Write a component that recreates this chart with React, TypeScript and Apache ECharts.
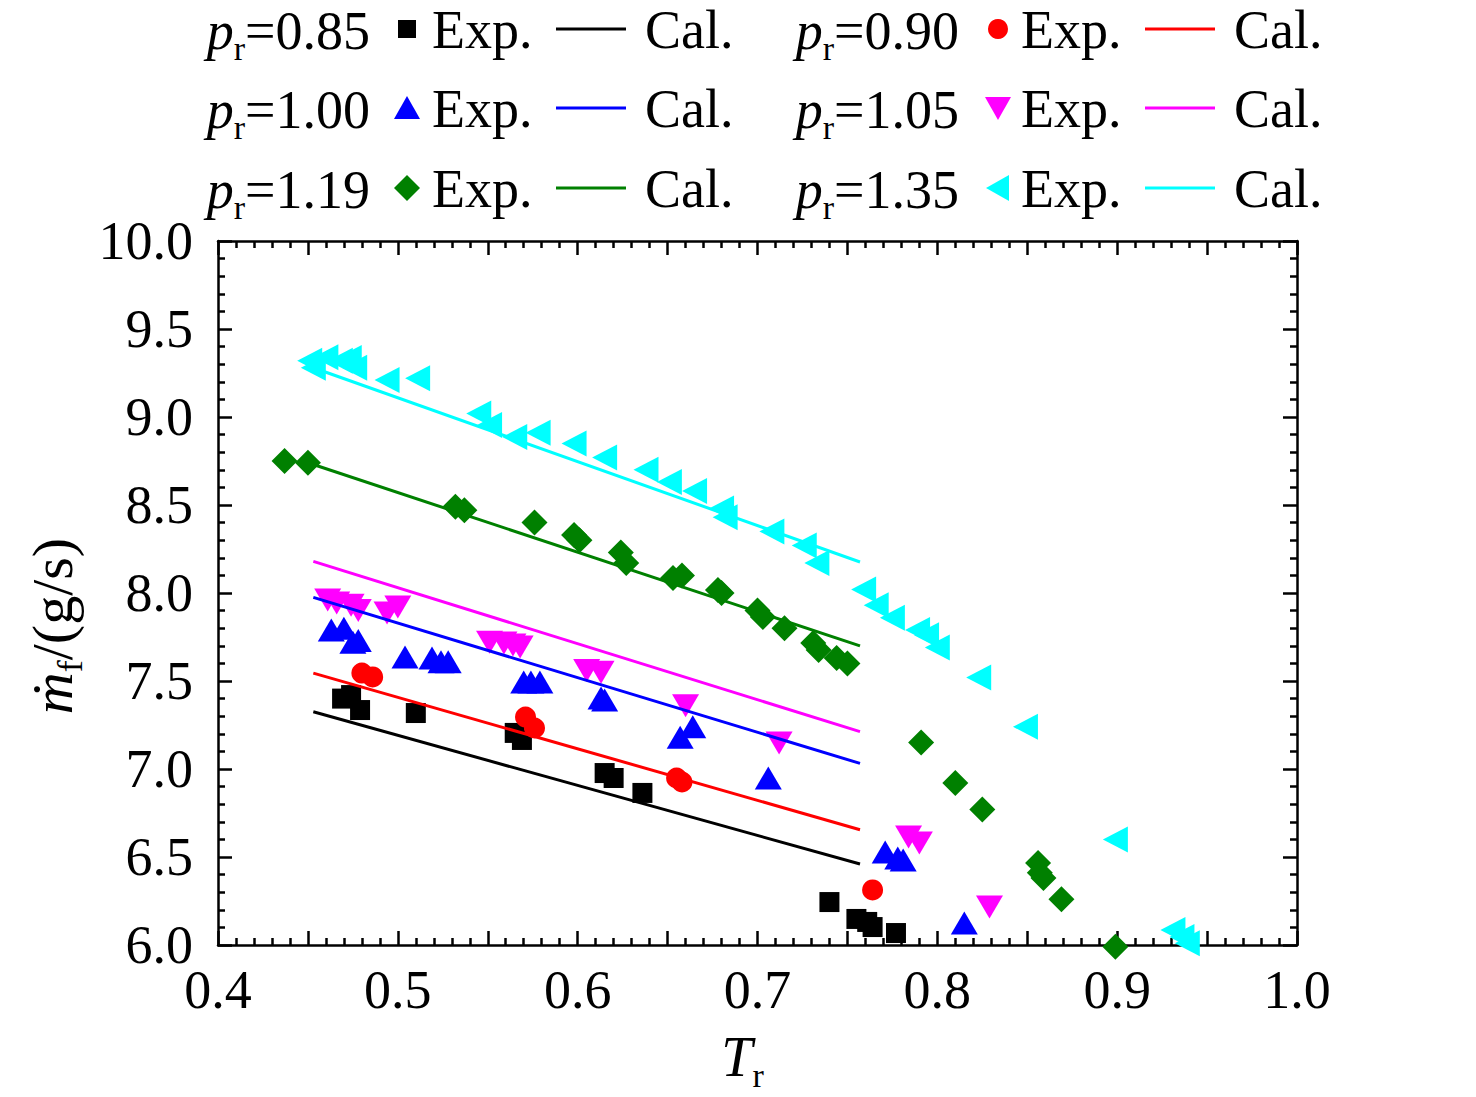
import React, { useEffect, useRef } from 'react';
import * as echarts from 'echarts';

const FONT = "'Liberation Serif', 'Times New Roman', serif";

// x = reduced temperature T_r, y = mass flow (g/s)
const xTicks = { min: 0.4, max: 1.0, interval: 0.05 };
const yTicks = { min: 6.0, max: 10.0, interval: 0.5 };

const pressureLabels = ['0.85', '0.90', '1.00', '1.05', '1.19', '1.35'];
const seriesColors = ['#000000', '#ff0000', '#0000ff', '#ff00ff', '#008000', '#00ffff'];

const exp085 = [
  [0.469, 7.4], [0.474, 7.42], [0.479, 7.335], [0.51, 7.318], [0.565, 7.205],
  [0.569, 7.165], [0.615, 6.977], [0.62, 6.949], [0.636, 6.864], [0.74, 6.244],
  [0.755, 6.148], [0.761, 6.131], [0.764, 6.102], [0.777, 6.068],
];
const exp090 = [
  [0.48, 7.545], [0.486, 7.523], [0.571, 7.295], [0.576, 7.233],
  [0.655, 6.949], [0.658, 6.926], [0.764, 6.313],
];
const exp100 = [
  [0.463, 7.79], [0.47, 7.8], [0.475, 7.72], [0.478, 7.73], [0.504, 7.636],
  [0.519, 7.63], [0.524, 7.61], [0.528, 7.61], [0.57, 7.494], [0.574, 7.494],
  [0.579, 7.494], [0.613, 7.403], [0.615, 7.392], [0.657, 7.18], [0.664, 7.24],
  [0.706, 6.949], [0.771, 6.528], [0.778, 6.494], [0.781, 6.483], [0.815, 6.125],
];
const exp105 = [
  [0.461, 7.96], [0.466, 7.943], [0.474, 7.93], [0.478, 7.9], [0.494, 7.886],
  [0.5, 7.92], [0.551, 7.72], [0.559, 7.716], [0.564, 7.705], [0.568, 7.693],
  [0.605, 7.56], [0.613, 7.55], [0.66, 7.36], [0.712, 7.148], [0.784, 6.614],
  [0.79, 6.58], [0.829, 6.216],
];
const exp119 = [
  [0.437, 8.75], [0.45, 8.74], [0.532, 8.49], [0.537, 8.47], [0.576, 8.4],
  [0.598, 8.33], [0.601, 8.3], [0.624, 8.23], [0.627, 8.17], [0.653, 8.085],
  [0.658, 8.1], [0.678, 8.017], [0.68, 8.0], [0.7, 7.9], [0.703, 7.864],
  [0.715, 7.8], [0.731, 7.716], [0.734, 7.676], [0.744, 7.63], [0.75, 7.6],
  [0.791, 7.15], [0.81, 6.92], [0.825, 6.77], [0.856, 6.466], [0.857, 6.41],
  [0.859, 6.38], [0.869, 6.26], [0.899, 5.99],
];
const exp135 = [
  [0.451, 9.32], [0.453, 9.28], [0.46, 9.34], [0.468, 9.32], [0.473, 9.335],
  [0.476, 9.28], [0.494, 9.21], [0.511, 9.22], [0.545, 9.02], [0.551, 8.955],
  [0.565, 8.886], [0.578, 8.91], [0.598, 8.85], [0.615, 8.77], [0.638, 8.7],
  [0.651, 8.63], [0.665, 8.58], [0.68, 8.48], [0.682, 8.43], [0.708, 8.35],
  [0.726, 8.27], [0.733, 8.17], [0.759, 8.02], [0.766, 7.93], [0.775, 7.86],
  [0.789, 7.79], [0.794, 7.76], [0.8, 7.69], [0.823, 7.52], [0.849, 7.24],
  [0.899, 6.6], [0.931, 6.085], [0.936, 6.045], [0.939, 6.01],
];
const expData = [exp085, exp090, exp100, exp105, exp119, exp135];

const cal085 = [[0.453, 7.325], [0.757, 6.46]];
const cal090 = [[0.453, 7.545], [0.757, 6.655]];
const cal100 = [[0.453, 7.975], [0.757, 7.032]];
const cal105 = [[0.453, 8.18], [0.757, 7.212]];
const cal119 = [[0.453, 8.73], [0.757, 7.7]];
const cal135 = [[0.453, 9.28], [0.757, 8.176]];
const calData = [cal085, cal090, cal100, cal105, cal119, cal135];

const symbols = [
  { symbol: 'rect', size: 20, rotate: 0 },
  { symbol: 'circle', size: 21, rotate: 0 },
  { symbol: 'triangle', size: [27, 23], rotate: 0 },
  { symbol: 'triangle', size: [27, 23], rotate: 180 },
  { symbol: 'diamond', size: [26, 26], rotate: 0 },
  { symbol: 'triangle', size: [26, 25], rotate: 90 },
];

// rich styles for subscripted labels (top padding pushes the subscript down)
const legendRich = {
  i: { fontFamily: FONT, fontStyle: 'italic', fontSize: 54, lineHeight: 50, color: '#000' },
  n: { fontFamily: FONT, fontSize: 54, lineHeight: 50, color: '#000' },
  s: { fontFamily: FONT, fontSize: 34, lineHeight: 16, padding: [34, 0, 0, 0], color: '#000' },
};
const xNameRich = {
  i: { fontFamily: FONT, fontStyle: 'italic', fontSize: 56, lineHeight: 56, color: '#000' },
  s: { fontFamily: FONT, fontSize: 34, lineHeight: 16, padding: [36, 0, 0, 0], color: '#000' },
};
const yNameRich = {
  i: { fontFamily: FONT, fontStyle: 'italic', fontSize: 58, lineHeight: 60, color: '#000' },
  n: { fontFamily: FONT, fontSize: 58, lineHeight: 60, color: '#000' },
  s: { fontFamily: FONT, fontSize: 36, lineHeight: 16, padding: [34, 0, 0, 0], color: '#000' },
};

function legendMarker(idx: number, cx: number, cy: number) {
  const fill = seriesColors[idx];
  switch (idx) {
    case 0:
      return { type: 'rect', shape: { x: cx - 9, y: cy - 9, width: 18, height: 18 }, style: { fill } };
    case 1:
      return { type: 'circle', shape: { cx, cy, r: 10 }, style: { fill } };
    case 2:
      return { type: 'polygon', shape: { points: [[cx, cy - 12], [cx + 13, cy + 11], [cx - 13, cy + 11]] }, style: { fill } };
    case 3:
      return { type: 'polygon', shape: { points: [[cx - 13, cy - 11], [cx + 13, cy - 11], [cx, cy + 12]] }, style: { fill } };
    case 4:
      return { type: 'polygon', shape: { points: [[cx, cy - 13], [cx + 13, cy], [cx, cy + 13], [cx - 13, cy]] }, style: { fill } };
    default:
      return { type: 'polygon', shape: { points: [[cx - 12, cy], [cx + 11, cy - 13], [cx + 11, cy + 13]] }, style: { fill } };
  }
}

function plainText(text: string, x: number, y: number) {
  return {
    type: 'text',
    x,
    y,
    style: {
      text,
      font: `54px ${FONT}`,
      lineHeight: 48,
      fill: '#000',
      align: 'left',
      verticalAlign: 'middle',
      textAlign: 'left',
      textVerticalAlign: 'middle',
    },
  };
}

function buildLegend() {
  const els: any[] = [];
  const colX = [0, 589];
  const rowY = [30, 109, 189];
  pressureLabels.forEach((p, idx) => {
    const dx = colX[idx % 2];
    const y = rowY[Math.floor(idx / 2)];
    els.push({
      type: 'text',
      x: 370 + dx,
      y: y + 1,
      style: {
        text: `{i|p}{s|r}{n|=${p}}`,
        rich: legendRich,
        align: 'right',
        verticalAlign: 'middle',
        textAlign: 'right',
        textVerticalAlign: 'middle',
      },
    });
    els.push(legendMarker(idx, 407 + dx + (idx % 2) * 2, y - 1));
    els.push(plainText('Exp.', 432 + dx, y));
    els.push({
      type: 'line',
      shape: { x1: 556 + dx, y1: y - 1, x2: 626 + dx, y2: y - 1 },
      style: { stroke: seriesColors[idx], lineWidth: 3 },
    });
    els.push(plainText('Cal.', 645 + dx, y));
  });
  return els;
}

const axisLineStyle = { color: '#000', width: 2.5 };

export default function App() {
  const chartRef = useRef<HTMLDivElement>(null);

  useEffect(() => {
    document.body.style.margin = '0';
    if (!chartRef.current) return;
    const chart = echarts.init(chartRef.current, undefined, { renderer: 'svg' });

    const tickCommon = {
      axisLine: { show: true, lineStyle: axisLineStyle },
      axisTick: { show: true, inside: true, length: 14, lineStyle: { color: '#000', width: 2.5 } },
      minorTick: { show: true, splitNumber: 5, length: 7, lineStyle: { color: '#000', width: 2.5 } },
      splitLine: { show: false },
    };

    const series: any[] = [];
    expData.forEach((d, idx) => {
      series.push({
        name: `p${pressureLabels[idx]} Exp.`,
        type: 'scatter',
        data: d,
        symbol: symbols[idx].symbol,
        symbolSize: symbols[idx].size,
        symbolRotate: symbols[idx].rotate,
        itemStyle: { color: seriesColors[idx], opacity: 1 },
        clip: false,
        z: 2,
      });
    });
    calData.forEach((d, idx) => {
      series.push({
        name: `p${pressureLabels[idx]} Cal.`,
        type: 'line',
        data: d,
        symbol: 'none',
        lineStyle: { color: seriesColors[idx], width: 3 },
        z: 3,
      });
    });

    chart.setOption({
      animation: false,
      backgroundColor: '#fff',
      grid: { left: 218, right: 179, top: 241, bottom: 152, outerBoundsMode: 'none', containLabel: false },
      xAxis: [
        {
          type: 'value',
          position: 'bottom',
          min: xTicks.min,
          max: xTicks.max,
          interval: xTicks.interval,
          ...tickCommon,
          axisLabel: {
            margin: 18,
            fontFamily: FONT,
            fontSize: 54,
            color: '#000',
            formatter: (v: number) => (Math.round(v * 100) % 10 === 0 ? v.toFixed(1) : ''),
          },
          name: '{i|T}{s|r}',
          nameLocation: 'middle',
          nameGap: 84,
          nameTextStyle: { rich: xNameRich, padding: [0, 30, 0, 0] },
        },
        {
          type: 'value',
          position: 'top',
          min: xTicks.min,
          max: xTicks.max,
          interval: xTicks.interval,
          ...tickCommon,
          axisLabel: { show: false },
        },
      ],
      yAxis: [
        {
          type: 'value',
          position: 'left',
          min: yTicks.min,
          max: yTicks.max,
          interval: yTicks.interval,
          ...tickCommon,
          axisLabel: {
            margin: 25,
            fontFamily: FONT,
            fontSize: 54,
            color: '#000',
            formatter: (v: number) => v.toFixed(1),
          },
          name: '{i|ṁ}{s|f}{n|/(g/s)}',
          nameLocation: 'middle',
          nameGap: 114,
          nameTextStyle: { rich: yNameRich, padding: [0, 66, 0, 0] },
        },
        {
          type: 'value',
          position: 'right',
          min: yTicks.min,
          max: yTicks.max,
          interval: yTicks.interval,
          ...tickCommon,
          axisLabel: { show: false },
        },
      ],
      graphic: buildLegend(),
      series,
    });

    return () => {
      chart.dispose();
    };
  }, []);

  return <div ref={chartRef} style={{ width: 1476, height: 1097, overflow: 'hidden' }} />;
}
